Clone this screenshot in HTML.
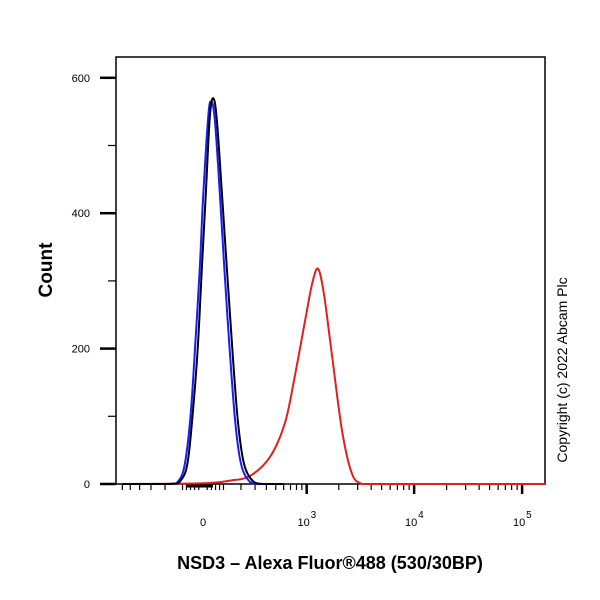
<!DOCTYPE html>
<html><head><meta charset="utf-8"><style>
body{margin:0;background:#fff;}
svg{display:block;font-family:"Liberation Sans",sans-serif;}
</style></head><body>
<svg id="c" width="600" height="600">
<rect x="116" y="57" width="429" height="427" fill="#fff" stroke="#000" stroke-width="1.5"/>
<g id="axes"></g>
<g id="series"></g>
<text x="52" y="270" transform="rotate(-90 52 270)" text-anchor="middle" font-size="19" font-weight="bold">Count</text>
<text x="330" y="569" text-anchor="middle" font-size="18" font-weight="bold">NSD3 – Alexa Fluor®488 (530/30BP)</text>
<text x="567" y="370" transform="rotate(-90 567 370)" text-anchor="middle" font-size="14">Copyright (c) 2022 Abcam Plc</text>
</svg>
<script>
const yTicks=[0,200,400,600];
const xTickVals=[0,1000,10000,100000];
const xTickLabels=["0","10","10","10"];
const xTickExps=["","3","4","5"];
const blueX=[-600,-180,-120,-88,-60,-38,-15,0,24,38,56,81,120,162,200,262,350,600];
const blueY=[0,0,5,30,100,200,320,420,540,565,540,430,250,100,30,3,0,0];
const blackX=[-600,-170,-110,-75,-50,-25,-5,12,32,48,66,92,135,178,220,290,380,600];
const blackY=[0,0,5,30,100,200,320,420,540,570,540,430,250,100,30,3,0,0];
const redX=[-600,0,135,262,436,617,772,963,1124,1279,1456,1729,2140,2655,3290,4000,6000,200000];
const redY=[0,1,5,12,40,90,160,240,295,318,280,190,80,15,0,0,0,0];
const ns="http://www.w3.org/2000/svg";
function xs(v){return 203+108*Math.asinh(v/222)/Math.LN10;}
function ys(v){return 484-v*0.677;}
const ax=document.getElementById('axes'),se=document.getElementById('series');
function mk(t,a,p){const e=document.createElementNS(ns,t);for(const k in a)e.setAttribute(k,a[k]);p.appendChild(e);return e;}
for(let v=0;v<=600;v+=100){const l=mk('line',{x1:v%200?108:100,x2:116,y1:ys(v),y2:ys(v),stroke:'#000','stroke-width':v%200?1.2:2.5},ax);

}
yTicks.forEach(v=>{const t=mk('text',{x:90,y:ys(v)+4,'text-anchor':'end','font-size':11},ax);t.textContent=v;

});
const minors=[];
for(let d=2;d<=5;d++)for(let m=1;m<10;m++)minors.push(m*Math.pow(10,d));
for(let m=1;m<=9;m++){minors.push(-m*100);}
[-80,-60,-40,-20,20,40,60,80].forEach(v=>minors.push(v));
minors.forEach(v=>{const x=xs(v);if(x<118||x>543)return;const maj=xTickVals.includes(v);
const l=mk('line',{x1:x,x2:x,y1:484,y2:maj?494:490,stroke:'#000','stroke-width':maj?2.5:1.2},ax);

});
xTickVals.forEach((v,i)=>{const t=mk('text',{x:xs(v)-(i?3:0),y:526,'text-anchor':'middle','font-size':11},ax);t.textContent=xTickLabels[i];


if(xTickExps[i]){const s=mk('text',{x:xs(v)+4,y:518,'font-size':10},ax);s.textContent=xTickExps[i];

}});
mk('line',{x1:186,x2:213,y1:486,y2:486,stroke:'#000','stroke-width':3},ax);
function draw(X,Y,c,name){const P=X.map((v,i)=>[Math.max(116,Math.min(545,xs(v))),ys(Y[i])]);
let d='M'+P[0][0].toFixed(1)+','+P[0][1].toFixed(1);
for(let i=0;i<P.length-1;i++){const p0=P[Math.max(0,i-1)],p1=P[i],p2=P[i+1],p3=P[Math.min(P.length-1,i+2)];
const c1=[p1[0]+(p2[0]-p0[0])/6,p1[1]+(p2[1]-p0[1])/6],c2=[p2[0]-(p3[0]-p1[0])/6,p2[1]-(p3[1]-p1[1])/6];
c1[0]=Math.min(Math.max(c1[0],p1[0]),p2[0]);c2[0]=Math.min(Math.max(c2[0],p1[0]),p2[0]);
c1[1]=Math.min(c1[1],484);c2[1]=Math.min(c2[1],484);
d+='C'+c1.map(n=>n.toFixed(1))+' '+c2.map(n=>n.toFixed(1))+' '+p2.map(n=>n.toFixed(1));}
const p=mk('path',{d:d,fill:'none',stroke:c,'stroke-width':2,'stroke-linejoin':'round'},se);

}
draw(redX,redY,'#e02020','red-histogram');
draw(blueX,blueY,'#1a1aff','blue-histogram');
draw(blackX,blackY,'#000','black-histogram');
</script>
</body></html>
